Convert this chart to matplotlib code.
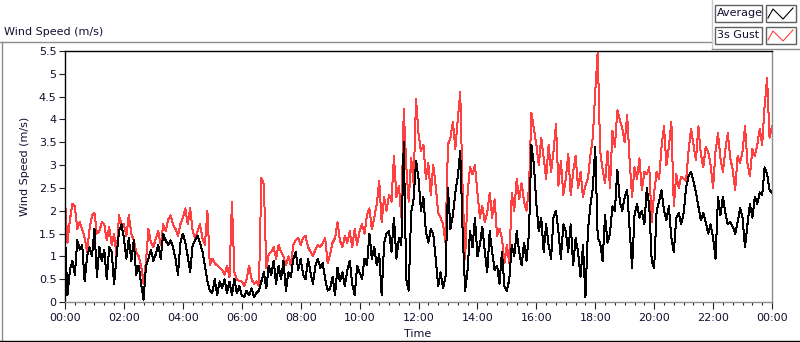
import numpy as np
import matplotlib.pyplot as plt
from matplotlib.lines import Line2D
from matplotlib.patches import Rectangle

# wind speed in m/s, 5-minute samples, one row per hour (00:00 .. 23:55)
gust_rows = [
    [2.25, 1.3, 1.8, 2.15, 2.1, 1.6, 1.75, 1.6, 1.4, 1.1, 1.6, 1.9],
    [1.95, 1.5, 1.55, 1.75, 1.7, 1.35, 1.65, 1.25, 1.5, 1.0, 1.9, 1.7],
    [1.7, 1.45, 1.9, 1.5, 1.35, 1.1, 1.0, 0.8, 0.4, 0.9, 1.6, 1.3],
    [1.2, 1.4, 1.55, 1.25, 1.7, 1.55, 1.8, 1.9, 1.7, 1.6, 1.45, 1.7],
    [1.85, 2.05, 1.7, 2.05, 1.55, 1.4, 1.55, 1.7, 1.4, 1.25, 2.0, 0.8],
    [0.95, 0.85, 0.8, 0.75, 0.7, 0.6, 0.8, 0.55, 2.2, 0.65, 0.5, 0.45],
    [0.45, 0.35, 0.5, 0.8, 0.5, 0.4, 0.45, 0.35, 2.72, 2.57, 0.75, 1.05],
    [1.1, 1.2, 0.95, 1.25, 1.1, 1.0, 0.8, 1.0, 0.8, 1.25, 1.35, 1.4],
    [1.25, 1.4, 1.45, 1.2, 1.1, 1.0, 1.15, 1.25, 1.2, 1.3, 1.4, 0.85],
    [1.05, 1.3, 1.4, 1.75, 1.35, 1.2, 1.45, 1.3, 1.55, 1.2, 1.6, 1.25],
    [1.55, 1.7, 1.5, 1.9, 2.05, 1.6, 1.85, 2.15, 2.65, 1.75, 2.3, 2.0],
    [2.35, 2.2, 3.2, 2.3, 2.55, 1.85, 4.22, 3.0, 2.2, 3.15, 2.6, 4.45],
    [3.7, 3.3, 3.45, 2.7, 3.05, 2.35, 3.0, 2.55, 1.95, 1.85, 1.7, 1.3],
    [3.45, 3.6, 3.95, 3.35, 4.0, 4.6, 2.4, 0.95, 2.4, 2.95, 2.8, 3.0],
    [2.4, 1.85, 2.1, 1.75, 1.95, 2.4, 1.85, 2.25, 1.45, 1.6, 1.4, 0.85],
    [1.25, 0.85, 2.4, 2.0, 2.7, 2.25, 2.6, 2.2, 2.0, 2.5, 4.15, 3.8],
    [3.45, 3.0, 3.6, 3.15, 2.7, 3.45, 2.85, 3.3, 3.9, 2.55, 3.1, 2.35],
    [2.7, 3.25, 2.35, 2.85, 3.2, 2.5, 2.85, 2.3, 2.55, 2.7, 3.2, 3.6],
    [4.6, 5.5, 3.3, 2.9, 2.6, 3.3, 2.5, 3.75, 3.4, 4.2, 4.0, 3.8],
    [3.5, 4.1, 3.1, 2.3, 2.95, 2.7, 3.15, 2.45, 2.85, 2.8, 2.95, 1.75],
    [2.4, 2.85, 2.7, 3.4, 3.85, 3.0, 3.4, 3.95, 2.1, 2.8, 2.5, 2.75],
    [2.7, 2.65, 3.3, 3.8, 3.45, 3.1, 3.85, 3.25, 2.95, 3.4, 3.3, 3.0],
    [2.5, 3.3, 3.7, 3.15, 2.85, 3.35, 3.7, 3.15, 2.9, 2.45, 3.2, 3.05],
    [3.3, 3.85, 3.05, 2.75, 3.35, 3.2, 3.45, 3.8, 3.45, 4.3, 4.9, 3.6],
]
gust_end = 3.85

avg_rows = [
    [1.45, 0.15, 0.7, 0.9, 0.6, 1.35, 1.15, 1.25, 0.45, 1.0, 1.2, 1.0],
    [1.6, 0.55, 1.2, 0.9, 1.15, 0.5, 1.2, 1.1, 0.4, 1.0, 1.55, 1.7],
    [1.4, 0.95, 1.4, 0.9, 1.35, 0.6, 0.8, 0.4, 0.05, 0.8, 0.95, 1.15],
    [0.9, 1.05, 1.25, 0.95, 1.5, 1.35, 1.25, 1.35, 1.2, 0.95, 0.6, 1.3],
    [1.5, 1.3, 1.0, 0.65, 1.25, 1.35, 1.45, 1.3, 1.1, 0.8, 0.45, 0.25],
    [0.2, 0.5, 0.15, 0.45, 0.3, 0.5, 0.2, 0.45, 0.15, 0.5, 0.2, 0.35],
    [0.15, 0.1, 0.25, 0.15, 0.3, 0.1, 0.2, 0.25, 0.45, 0.65, 0.3, 0.8],
    [0.6, 0.9, 0.4, 0.8, 0.5, 0.9, 0.25, 0.65, 0.55, 0.95, 1.1, 0.7],
    [0.95, 0.6, 0.5, 0.95, 0.65, 0.4, 0.8, 0.95, 0.75, 0.85, 0.5, 0.25],
    [0.3, 0.55, 0.15, 0.75, 0.45, 0.65, 0.35, 0.7, 0.9, 0.4, 0.15, 0.8],
    [0.65, 0.5, 0.95, 0.8, 1.5, 0.95, 1.2, 0.8, 1.05, 0.15, 1.3, 1.5],
    [1.55, 1.1, 1.85, 0.95, 1.4, 1.25, 3.5, 0.5, 0.25, 1.95, 2.25, 3.1],
    [2.7, 2.0, 2.3, 1.55, 1.3, 1.6, 1.5, 0.95, 0.35, 0.65, 0.3, 0.55],
    [2.5, 1.6, 1.9, 2.4, 2.75, 3.3, 1.5, 0.25, 0.7, 1.55, 1.2, 1.85],
    [1.0, 1.25, 1.65, 1.1, 0.65, 1.55, 1.1, 0.7, 0.8, 0.4, 1.1, 0.35],
    [0.25, 0.5, 1.25, 1.0, 1.55, 1.1, 0.8, 1.3, 0.9, 1.5, 3.45, 3.0],
    [2.15, 1.55, 1.85, 1.1, 1.7, 1.25, 0.95, 1.85, 2.0, 1.55, 0.95, 1.7],
    [1.55, 1.1, 1.7, 0.8, 1.4, 1.1, 0.55, 1.25, 0.1, 1.55, 2.1, 2.5],
    [3.4, 1.4, 1.3, 0.9, 1.9, 1.3, 1.5, 2.1, 2.0, 2.9, 2.2, 2.0],
    [2.3, 2.45, 1.6, 0.75, 1.9, 2.15, 1.85, 2.0, 1.7, 2.5, 2.1, 0.9],
    [0.75, 2.0, 2.2, 2.45, 2.0, 1.8, 2.1, 1.4, 1.1, 1.85, 1.95, 1.7],
    [1.95, 2.5, 2.75, 2.85, 2.65, 2.4, 2.1, 1.8, 1.95, 1.75, 1.5, 1.7],
    [1.4, 0.95, 2.3, 1.9, 2.3, 1.95, 1.7, 1.75, 1.65, 1.5, 1.75, 2.05],
    [1.85, 1.2, 1.7, 2.15, 1.85, 2.3, 2.15, 2.4, 2.35, 2.95, 2.8, 2.45],
]
avg_end = 2.4

hour_ticks = [0, 2, 4, 6, 8, 10, 12, 14, 16, 18, 20, 22, 24]
hour_labels = ['00:00', '02:00', '04:00', '06:00', '08:00', '10:00', '12:00',
               '14:00', '16:00', '18:00', '20:00', '22:00', '00:00']
y_ticks = [0, 0.5, 1, 1.5, 2, 2.5, 3, 3.5, 4, 4.5, 5, 5.5]
y_labels = ['0', '0.5', '1', '1.5', '2', '2.5', '3', '3.5', '4', '4.5', '5', '5.5']

gust = np.array(sum(gust_rows, []) + [gust_end])
avg = np.array(sum(avg_rows, []) + [avg_end])
t = np.arange(len(gust)) / 12.0

W, H = 800, 342
RED = '#ff4040'
TXT = '#101030'


def fx(px):
    return px / W


def fy(py):
    return 1 - py / H


fig = plt.figure(figsize=(8, 3.42), dpi=100)
fig.patch.set_facecolor('white')

ax = fig.add_axes([fx(65), fy(302), fx(772) - fx(65), fy(51) - fy(302)])
# 1-pixel, un-smoothed lines like the instrument display
ax.plot(t, gust, color=RED, lw=0.72, antialiased=False)
ax.plot(t, avg, color='black', lw=0.72, antialiased=False)

ax.set_xlim(0, 24)
ax.set_ylim(0, 5.5)
ax.set_xticks(hour_ticks)
ax.set_xticklabels(hour_labels)
ax.set_xticks(np.arange(0, 24.01, 1 / 3), minor=True)
ax.set_yticks(y_ticks)
ax.set_yticklabels(y_labels)
ax.tick_params(axis='both', which='major', direction='out', length=4, width=0.8,
               labelsize=8, labelcolor=TXT, color='#202020', pad=2)
ax.tick_params(axis='x', which='minor', direction='out', length=2.5, width=0.8,
               color='#202020')
ax.tick_params(axis='x', which='major', length=5, pad=3)

for side in ['left', 'top']:
    ax.spines[side].set_color('black')
    ax.spines[side].set_linewidth(1.0)
for side in ['right', 'bottom']:
    ax.spines[side].set_color('#8c8c8c')
    ax.spines[side].set_linewidth(1.0)

fig.text(fx(418), fy(334), 'Time', fontsize=8, color=TXT, ha='center', va='center')
ax.set_ylabel('Wind Speed (m/s)', fontsize=8, color=TXT)
ax.yaxis.set_label_coords(-0.05, 0.54)

# outer panel frame
fig.add_artist(Line2D([fx(0), fx(712)], [fy(42), fy(42)], color='#8c8c8c', lw=1))
fig.add_artist(Line2D([fx(1.5), fx(1.5)], [fy(42), fy(341)], color='#8c8c8c', lw=1))
fig.add_artist(Line2D([fx(0), fx(800)], [fy(341), fy(341)], color='black', lw=1))
fig.add_artist(Line2D([fx(712), fx(712)], [fy(0), fy(49)], color='#c8c8c8', lw=1))
fig.add_artist(Line2D([fx(712), fx(800)], [fy(49), fy(49)], color='#8c8c8c', lw=1))

fig.text(fx(4), fy(32), 'Wind Speed (m/s)', fontsize=8, color=TXT, va='center', ha='left')

# legend boxes
legend_names = ['Average', '3s Gust']
legend_colors = ['black', RED]
for i, (name, col) in enumerate(zip(legend_names, legend_colors)):
    top = 5 + i * 22
    fig.add_artist(Rectangle((fx(715), fy(top + 17)), fx(762) - fx(715), fy(top) - fy(top + 17),
                             transform=fig.transFigure, facecolor='white',
                             edgecolor='#606060', lw=1))
    fig.text(fx(717), fy(top + 8.5), name, fontsize=8, color=TXT, va='center', ha='left')
    fig.add_artist(Rectangle((fx(766), fy(top + 17)), fx(796) - fx(766), fy(top) - fy(top + 17),
                             transform=fig.transFigure, facecolor='white',
                             edgecolor='#606060', lw=1))
    zx = [768, 773, 783, 793]
    zy = [top + 13, top + 4, top + 14, top + 3]
    fig.add_artist(Line2D([fx(v) for v in zx], [fy(v) for v in zy], color=col, lw=0.8))

fig.savefig('out.png', dpi=100)
